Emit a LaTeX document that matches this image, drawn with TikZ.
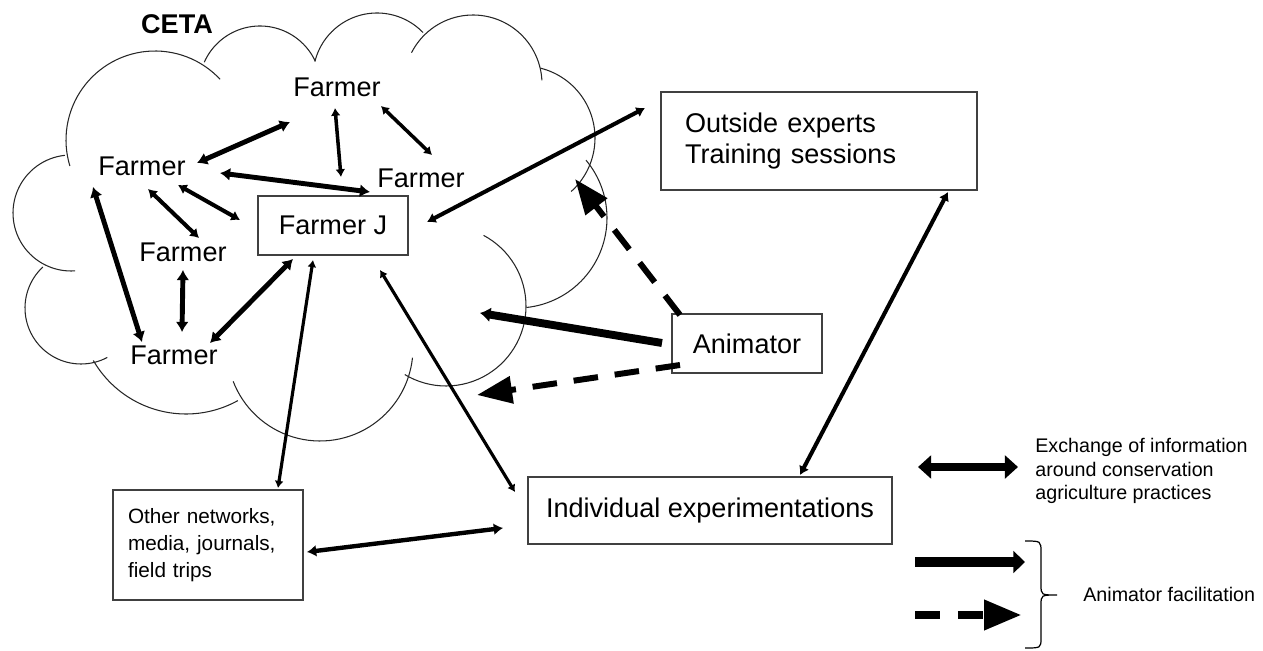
\documentclass[tikz,border=0pt]{standalone}
\usepackage{fontspec}
\setmainfont{Liberation Sans}
\usetikzlibrary{arrows.meta,calc}
\newcommand{\mainsize}{\fontsize{15.4pt}{18.1pt}\selectfont}
\newcommand{\othersize}{\fontsize{11.8pt}{15.3pt}\selectfont}
\newcommand{\legendsize}{\fontsize{11.2pt}{13.3pt}\selectfont}
% one bump of the cloud: centre x, centre y, radius, start and end angle
\newcommand{\cloudarc}[5]{\draw[cloudline] plot[domain=#4:#5, samples=48] ({#1+#3*cos(\x)}, {#2+#3*sin(\x)});}
\tikzset{cloudline/.style={line width=0.6pt, black!85},
         farmer/.style={font=\mainsize, inner sep=2pt},
         box/.style={draw=black!75, line width=0.8pt, font=\mainsize, inner sep=0pt},
         xlink/.style={{Latex[length=1pt 1.7,width=1pt 2.3]}-{Latex[length=1pt 1.7,width=1pt 2.3]}, line width=#1},
         xlink/.default=2.3pt,
         anim/.style={-{Latex[length=1pt 1.1,width=1pt 1.7]}, line width=4.5pt},
         animdash/.style={-{Triangle[length=20pt,width=15pt]}, line width=3.4pt, dash pattern=on 14pt off 9.6pt}}

\begin{document}
\begin{tikzpicture}[x=0.02cm, y=-0.02cm]
    \useasboundingbox (0,0) rectangle (1263,651);
    % the CETA cloud
    \cloudarc{155}{140}{89}{163}{317}
    \cloudarc{260}{87}{61}{204}{335}
    \cloudarc{377}{77}{64}{194}{316}
    \cloudarc{473}{84}{69}{207}{357}
    \cloudarc{523}{138}{72}{-76}{48}
    \cloudarc{517}{218}{90}{-40}{84}
    \cloudarc{446}{306}{80}{-62}{121}
    \cloudarc{320}{348}{93}{6}{159}
    \cloudarc{186}{307}{107}{61}{150}
    \cloudarc{81}{308}{56}{62}{227}
    \cloudarc{71}{213}{58}{86}{264}
    \node[font=\mainsize\bfseries] (ceta) at (177,24) {CETA};

    \node[farmer] (fTop) at (337,87) {Farmer};
    \node[farmer] (fLeft) at (142,166) {Farmer};
    \node[farmer] (fRight) at (421,178) {Farmer};
    \node[farmer] (fMid) at (183,252) {Farmer};
    \node[farmer] (fBot) at (174,355) {Farmer};
    \node[box, minimum width=3cm, minimum height=1.18cm] (farmerJ) at (333,225.5) {Farmer J\hspace{6pt}};
    \node[box, minimum width=6.32cm, minimum height=1.96cm, text width=5.36cm, inner xsep=0.48cm, align=left] (outside) at (819,141) {Outside experts\\Training sessions};
    \node[box, minimum width=3cm, minimum height=1.18cm] (animator) at (747,343.5) {Animator\hspace{6pt}};
    \node[box, minimum width=7.28cm, minimum height=1.34cm] (indiv) at (710,510.5) {Individual experimentations};
    \node[box, font=\othersize, minimum width=3.8cm, minimum height=2.2cm, text width=3.2cm, inner xsep=0.3cm, align=left] (other) at (208,545) {Other networks,\\media, journals,\\field trips};
    \coordinate (cloudNE) at (575,179);
    \coordinate (cloudE) at (480,313);
    \coordinate (cloudS) at (477,395);

    % exchanges
    \draw[xlink=2.8pt] ($(fTop)+(-47,35)$) -- ($(fLeft)+(55,-3)$);
    \draw[xlink=2pt] ($(fTop)+(-2,21)$) -- ($(farmerJ)+(8,-48.5)$);
    \draw[xlink=2pt] ($(fTop)+(44,19)$) -- ($(fRight)+(11,-23)$);
    \draw[xlink=2.8pt] ($(fLeft)+(78,7)$) -- ($(farmerJ)+(37,-33.5)$);
    \draw[xlink] ($(fLeft)+(36,19)$) -- ($(farmerJ)+(-93,-5.5)$);
    \draw[xlink] ($(fLeft)+(6,23)$) -- ($(fMid)+(16,-14)$);
    \draw[xlink=2.8pt] ($(fLeft)+(-49,21)$) -- ($(fBot)+(-32,-13)$);
    \draw[xlink=2.8pt] ($(fMid)+(0,18)$) -- ($(fBot)+(8,-23)$);
    \draw[xlink=2.8pt] ($(fBot)+(36,-12)$) -- ($(farmerJ)+(-40,33.5)$);
    \draw[xlink=1.8pt] ($(farmerJ)+(-20,34.5)$) -- ($(other)+(70,-57)$);
    \draw[xlink=1.8pt] ($(farmerJ)+(47,44.5)$) -- ($(indiv)+(-195,-18.5)$);
    \draw[xlink] ($(farmerJ)+(94,-3.5)$) -- ($(outside)+(-174,-33)$);
    \draw[xlink] ($(outside)+(129,51)$) -- ($(indiv)+(90,-35.5)$);
    \draw[xlink=2.5pt] ($(other)+(99,7)$) -- ($(indiv)+(-207,17.5)$);

    % animator
    \draw[anim] ($(animator)+(-85,-0.5)$) -- (cloudE);
    \draw[animdash] ($(animator)+(-67,-28.5)$) -- (cloudNE);
    \draw[animdash] ($(animator)+(-67,21.5)$) -- (cloudS);

    % legend
    \coordinate (lgExL) at (918,467);
    \coordinate (lgExR) at (1018,467);
    \draw[{Triangle[length=7.5pt,width=13pt]}-{Triangle[length=7.5pt,width=13pt]}, line width=4.5pt] (lgExL) -- (lgExR);
    \node[font=\legendsize, align=left, anchor=west, inner sep=0pt] (lgEx) at (1035,471) {Exchange of information\\around conservation\\agriculture practices};
    \coordinate (lgAnL) at (915,562);
    \coordinate (lgAnR) at (1025,562);
    \draw[-{Triangle[length=6.6pt,width=12.3pt]}, line width=5.5pt] (lgAnL) -- (lgAnR);
    \coordinate (lgDaL) at (915,615);
    \coordinate (lgDaR) at (1022,615);
    \draw[-{Triangle[length=21.5pt,width=16pt]}, line width=5pt, dash pattern=on 14.2pt off 10.2pt] (lgDaL) -- (lgDaR);
    \draw[line width=0.7pt] (1025,541) .. controls (1041,541) .. (1041,552) -- (1041,585) .. controls (1041,595) .. (1057,595)
        .. controls (1041,595) .. (1041,605) -- (1041,638) .. controls (1041,648) .. (1025,648);
    \node[font=\legendsize, anchor=west, inner sep=0pt] (lgAnim) at (1083,594) {Animator facilitation};
\end{tikzpicture}
\end{document}
